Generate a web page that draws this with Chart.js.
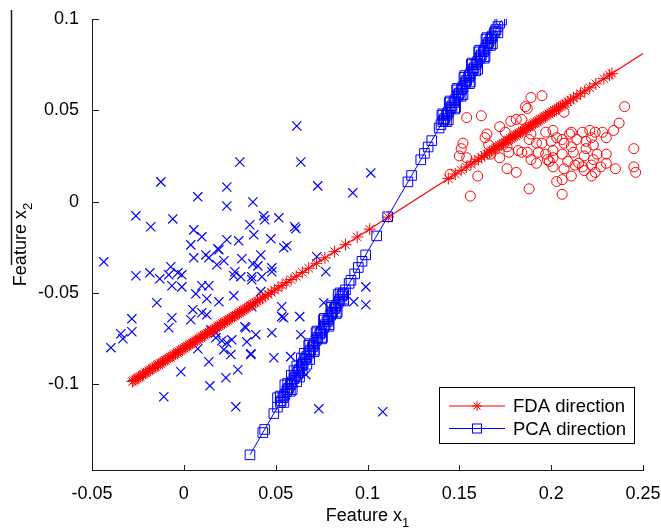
<!DOCTYPE html>
<html>
<head>
<meta charset="utf-8">
<script src="https://cdn.jsdelivr.net/npm/chart.js"></script>
<style>
  html, body { margin: 0; padding: 0; background: #fff; }
  #wrap { width: 661px; height: 529px; }
</style>
</head>
<body>
<div id="wrap"><canvas id="chart" width="661" height="529"></canvas></div>
<script>
// axis ticks
const xTicks = [-0.05, 0, 0.05, 0.1, 0.15, 0.2, 0.25];
const yTicks = [-0.1, -0.05, 0, 0.05, 0.1];

// class 1 samples (blue x)
const class1X = [0.0615, 0.0637, 0.0305, 0.0729, -0.0125, 0.0076, 0.0234, 0.0234, 0.0376, -0.0261,
  -0.0180, -0.0060, 0.0054, 0.0098, 0.0038, 0.0120, 0.0136, 0.0185, 0.0234, 0.0299,
  0.0359, 0.0381, 0.0435, 0.0441, 0.0517, 0.0474, 0.0419, 0.0544, 0.0561, 0.0604,
  0.0610, -0.0436, 0.0054, 0.0191, 0.0218, 0.0180, 0.0316, 0.0376, -0.0261, -0.0185,
  -0.0131, -0.0071, -0.0082, -0.0033, -0.0011, 0.0278, 0.0272, 0.0310, 0.0370, -0.0065,
  -0.0011, 0.0065, 0.0098, 0.0136, 0.0125, 0.0191, 0.0272, 0.0370, -0.0147, -0.0283,
  -0.0065, -0.0082, 0.0049, 0.0038, 0.0098, 0.0125, -0.0343, -0.0332, -0.0283, -0.0397,
  0.0338, 0.0174, 0.0207, 0.0234, 0.0261, 0.0218, 0.0256, 0.0343, 0.0365, 0.0076,
  0.0136, -0.0016, 0.0294, 0.0229, 0.0142, -0.0109, 0.0283, 0.1018, 0.0920, 0.0403,
  0.0479, 0.0724, 0.0425, 0.0479, 0.0773, 0.0419, 0.0533, 0.0533, 0.0544, 0.0631,
  0.0479, 0.0637, 0.0365, 0.0490, 0.0582, 0.0762, 0.0925, 0.0991, 0.0991, 0.0664,
  0.0735, 0.1083, 0.0332, 0.0147, 0.0174, 0.0392, 0.0370];
const class1Y = [0.0414, 0.0217, 0.0217, 0.0086, 0.0108, 0.0026, 0.0080, -0.0024, -0.0002, -0.0078,
  -0.0138, -0.0095, -0.0155, -0.0193, -0.0237, -0.0292, -0.0308, -0.0259, -0.0209, -0.0215,
  -0.0127, -0.0182, -0.0078, -0.0100, -0.0089, -0.0204, -0.0292, -0.0253, -0.0242, -0.0138,
  -0.0149, -0.0330, -0.0308, -0.0264, -0.0324, -0.0346, -0.0313, -0.0341, -0.0406, -0.0390,
  -0.0423, -0.0357, -0.0401, -0.0390, -0.0401, -0.0384, -0.0406, -0.0412, -0.0412, -0.0461,
  -0.0467, -0.0505, -0.0461, -0.0461, -0.0532, -0.0549, -0.0516, -0.0428, -0.0554, -0.0642,
  -0.0636, -0.0691, -0.0592, -0.0647, -0.0609, -0.0620, -0.0724, -0.0751, -0.0713, -0.0800,
  -0.0691, -0.0746, -0.0762, -0.0773, -0.0757, -0.0811, -0.0838, -0.0768, -0.0838, -0.0806,
  -0.0877, -0.0932, -0.0921, -0.0965, -0.1009, -0.1069, -0.1124, 0.0157, 0.0048, -0.0352,
  -0.0363, -0.0302, -0.0412, -0.0384, -0.0384, -0.0493, -0.0576, -0.0630, -0.0636, -0.0630,
  -0.0718, -0.0729, -0.0833, -0.0855, -0.0849, -0.0554, -0.0549, -0.0467, -0.0565, -0.0948,
  -0.1135, -0.1151, -0.0685, -0.0702, -0.0718, -0.0729, -0.0576];

// class 2 samples (red o)
const class2X = [0.189, 0.195, 0.186, 0.187, 0.154, 0.162, 0.240, 0.207, 0.181, 0.178,
  0.184, 0.172, 0.175, 0.237, 0.234, 0.165, 0.164, 0.201, 0.211, 0.210,
  0.217, 0.221, 0.224, 0.228, 0.230, 0.222, 0.219, 0.214, 0.203, 0.197,
  0.189, 0.192, 0.195, 0.200, 0.207, 0.211, 0.219, 0.223, 0.245, 0.152,
  0.151, 0.150, 0.154, 0.166, 0.167, 0.172, 0.177, 0.184, 0.187, 0.189,
  0.193, 0.197, 0.198, 0.201, 0.201, 0.206, 0.212, 0.218, 0.223, 0.225,
  0.230, 0.209, 0.213, 0.201, 0.207, 0.217, 0.222, 0.227, 0.235, 0.245,
  0.246, 0.222, 0.211, 0.206, 0.203, 0.176, 0.181, 0.160, 0.145, 0.188,
  0.156, 0.206, 0.188, 0.206, 0.199, 0.192, 0.215, 0.218, 0.230, 0.224,
  0.182, 0.176];
const class2Y = [0.057, 0.058, 0.052, 0.051, 0.046, 0.047, 0.052, 0.049, 0.045, 0.044,
  0.045, 0.041, 0.038, 0.043, 0.039, 0.037, 0.035, 0.039, 0.038, 0.037,
  0.038, 0.039, 0.038, 0.038, 0.035, 0.035, 0.033, 0.034, 0.035, 0.038,
  0.037, 0.032, 0.032, 0.033, 0.032, 0.030, 0.029, 0.031, 0.029, 0.032,
  0.029, 0.025, 0.024, 0.031, 0.026, 0.024, 0.027, 0.027, 0.027, 0.023,
  0.027, 0.026, 0.023, 0.028, 0.024, 0.026, 0.027, 0.025, 0.023, 0.026,
  0.026, 0.022, 0.020, 0.019, 0.018, 0.019, 0.020, 0.019, 0.018, 0.019,
  0.016, 0.014, 0.014, 0.012, 0.011, 0.018, 0.016, 0.014, 0.015, 0.007,
  0.003, 0.004, 0.034, 0.034, 0.022, 0.021, 0.021, 0.017, 0.021, 0.016,
  0.028, 0.030];

// FDA direction: projected samples (asterisks) and the direction line
const fdaX = [-0.0280, -0.0272, -0.0265, -0.0254, -0.0246, -0.0238, -0.0226, -0.0219, -0.0208, -0.0200,
  -0.0191, -0.0183, -0.0170, -0.0162, -0.0155, -0.0144, -0.0137, -0.0128, -0.0117, -0.0109,
  -0.0101, -0.0090, -0.0082, -0.0074, -0.0063, -0.0055, -0.0046, -0.0035, -0.0028, -0.0019,
  -0.0008, 0.0001, 0.0010, 0.0018, 0.0029, 0.0037, 0.0046, 0.0056, 0.0064, 0.0073,
  0.0083, 0.0092, 0.0100, 0.0111, 0.0119, 0.0128, 0.0138, 0.0146, 0.0155, 0.0166,
  0.0174, 0.0183, 0.0193, 0.0201, 0.0210, 0.0221, 0.0229, 0.0238, 0.0248, 0.0257,
  0.0265, 0.0276, 0.0284, 0.0293, 0.0303, 0.0312, 0.0322, 0.0331, 0.0342, 0.0353,
  0.0365, 0.0376, 0.0389, 0.0401, 0.0415, 0.0428, 0.0443, 0.0459, 0.0476, 0.0494,
  0.0513, 0.0535, 0.0558, 0.0584, 0.0612, 0.0645, 0.0680, 0.0722, 0.0768, 0.0821,
  0.0880, 0.0944, 0.1012, 0.1113,
  0.1440, 0.1478, 0.1510, 0.1538, 0.1563, 0.1585, 0.1604, 0.1621, 0.1637, 0.1651,
  0.1664, 0.1676, 0.1688, 0.1699, 0.1710, 0.1720, 0.1731, 0.1741, 0.1750, 0.1760,
  0.1769, 0.1779, 0.1788, 0.1797, 0.1806, 0.1815, 0.1824, 0.1833, 0.1842, 0.1851,
  0.1860, 0.1869, 0.1878, 0.1887, 0.1896, 0.1905, 0.1914, 0.1923, 0.1932, 0.1941,
  0.1950, 0.1960, 0.1969, 0.1978, 0.1988, 0.1998, 0.2008, 0.2018, 0.2029, 0.2040,
  0.2052, 0.2064, 0.2077, 0.2091, 0.2106, 0.2122, 0.2140, 0.2160, 0.2183, 0.2210,
  0.2243, 0.2287, 0.2318, 0.2331];
const fdaY = [-0.0985, -0.0980, -0.0975, -0.0968, -0.0963, -0.0958, -0.0950, -0.0945, -0.0938, -0.0933,
  -0.0927, -0.0922, -0.0914, -0.0909, -0.0904, -0.0897, -0.0893, -0.0887, -0.0880, -0.0874,
  -0.0869, -0.0862, -0.0857, -0.0852, -0.0845, -0.0840, -0.0834, -0.0827, -0.0822, -0.0816,
  -0.0809, -0.0803, -0.0798, -0.0792, -0.0785, -0.0780, -0.0774, -0.0768, -0.0763, -0.0757,
  -0.0750, -0.0745, -0.0739, -0.0732, -0.0727, -0.0721, -0.0715, -0.0710, -0.0704, -0.0697,
  -0.0692, -0.0686, -0.0679, -0.0674, -0.0668, -0.0661, -0.0656, -0.0650, -0.0644, -0.0638,
  -0.0633, -0.0626, -0.0621, -0.0615, -0.0608, -0.0603, -0.0596, -0.0590, -0.0583, -0.0576,
  -0.0568, -0.0561, -0.0553, -0.0545, -0.0536, -0.0528, -0.0518, -0.0508, -0.0497, -0.0485,
  -0.0473, -0.0459, -0.0444, -0.0427, -0.0409, -0.0388, -0.0365, -0.0338, -0.0308, -0.0274,
  -0.0236, -0.0194, -0.0151, -0.0085,
  0.0126, 0.0151, 0.0171, 0.0189, 0.0205, 0.0220, 0.0232, 0.0243, 0.0253, 0.0262,
  0.0271, 0.0278, 0.0286, 0.0293, 0.0300, 0.0307, 0.0314, 0.0320, 0.0326, 0.0333,
  0.0338, 0.0345, 0.0351, 0.0357, 0.0362, 0.0368, 0.0374, 0.0380, 0.0386, 0.0391,
  0.0397, 0.0403, 0.0409, 0.0415, 0.0420, 0.0426, 0.0432, 0.0438, 0.0444, 0.0450,
  0.0455, 0.0462, 0.0468, 0.0473, 0.0480, 0.0486, 0.0493, 0.0499, 0.0506, 0.0513,
  0.0521, 0.0529, 0.0537, 0.0546, 0.0556, 0.0566, 0.0578, 0.0591, 0.0606, 0.0623,
  0.0645, 0.0673, 0.0693, 0.0701];
const fdaLineX = [-0.028, 0.25];
const fdaLineY = [-0.0985, 0.0811];

// PCA direction: projected samples (squares) and the direction line
const pcaX = [0.036, 0.043, 0.044, 0.049, 0.051, 0.0525, 0.053, 0.054, 0.0545, 0.055,
  0.056, 0.0565, 0.057, 0.058, 0.0585, 0.059, 0.060, 0.0605, 0.061, 0.062,
  0.0625, 0.063, 0.064, 0.0645, 0.065, 0.066, 0.0665, 0.067, 0.068, 0.0685,
  0.069, 0.070, 0.0705, 0.071, 0.072, 0.0725, 0.073, 0.074, 0.0745, 0.075,
  0.076, 0.0765, 0.077, 0.078, 0.0785, 0.079, 0.080, 0.0805, 0.081, 0.082,
  0.0825, 0.083, 0.084, 0.0845, 0.085, 0.086, 0.0865, 0.087, 0.088, 0.090,
  0.091, 0.093, 0.095, 0.097, 0.099, 0.105, 0.111,
  0.0545, 0.0510, 0.0580, 0.0550, 0.0615, 0.0585, 0.0645, 0.0615, 0.0685, 0.0655,
  0.0710, 0.0685, 0.0755, 0.0725, 0.0790, 0.0765, 0.0835, 0.0805, 0.0870, 0.0850,
  0.0525, 0.0590, 0.0565, 0.0630, 0.0600, 0.0670, 0.0640, 0.0710, 0.0680, 0.0750,
  0.0720, 0.0790, 0.0760, 0.0830, 0.0800, 0.0870, 0.0840,
  0.122, 0.124, 0.129, 0.131, 0.133, 0.135, 0.139, 0.140, 0.141, 0.1415,
  0.142, 0.143, 0.1435, 0.144, 0.145, 0.1455, 0.146, 0.147, 0.1475, 0.148,
  0.149, 0.1495, 0.150, 0.151, 0.1515, 0.152, 0.153, 0.1535, 0.154, 0.155,
  0.1555, 0.156, 0.157, 0.1575, 0.158, 0.159, 0.1595, 0.160, 0.161, 0.1615,
  0.162, 0.163, 0.1635, 0.164, 0.165, 0.1655, 0.166, 0.167, 0.1675, 0.168,
  0.169, 0.1695, 0.170, 0.171, 0.172, 0.173,
  0.1430, 0.1405, 0.1475, 0.1445, 0.1510, 0.1485, 0.1555, 0.1525, 0.1590, 0.1565,
  0.1635, 0.1605, 0.1670, 0.1645, 0.1710,
  0.1440, 0.1410, 0.1480, 0.1450, 0.1520, 0.1490, 0.1560, 0.1530, 0.1600, 0.1570,
  0.1640, 0.1610, 0.1680, 0.1650];
const pcaY = [-0.1387, -0.1265, -0.1248, -0.1161, -0.1126, -0.1100, -0.1091, -0.1074, -0.1065, -0.1056,
  -0.1039, -0.1030, -0.1022, -0.1004, -0.0996, -0.0987, -0.0970, -0.0961, -0.0952, -0.0935,
  -0.0926, -0.0917, -0.0900, -0.0891, -0.0883, -0.0865, -0.0857, -0.0848, -0.0831, -0.0822,
  -0.0813, -0.0796, -0.0787, -0.0778, -0.0761, -0.0752, -0.0744, -0.0726, -0.0718, -0.0709,
  -0.0692, -0.0683, -0.0674, -0.0657, -0.0648, -0.0639, -0.0622, -0.0613, -0.0605, -0.0587,
  -0.0579, -0.0570, -0.0553, -0.0544, -0.0535, -0.0518, -0.0509, -0.0500, -0.0483, -0.0448,
  -0.0431, -0.0396, -0.0361, -0.0327, -0.0292, -0.0188, -0.0083,
  -0.1100, -0.1074, -0.1039, -0.1004, -0.0987, -0.0952, -0.0926, -0.0900, -0.0865, -0.0831,
  -0.0813, -0.0778, -0.0744, -0.0709, -0.0674, -0.0639, -0.0605, -0.0570, -0.0535, -0.0500,
  -0.1065, -0.1030, -0.0996, -0.0961, -0.0926, -0.0891, -0.0857, -0.0822, -0.0787, -0.0752,
  -0.0718, -0.0683, -0.0648, -0.0613, -0.0579, -0.0544, -0.0509,
  0.0108, 0.0143, 0.0229, 0.0264, 0.0299, 0.0334, 0.0403, 0.0421, 0.0438, 0.0447,
  0.0455, 0.0473, 0.0481, 0.0490, 0.0507, 0.0516, 0.0525, 0.0542, 0.0551, 0.0560,
  0.0577, 0.0586, 0.0594, 0.0612, 0.0620, 0.0629, 0.0646, 0.0655, 0.0664, 0.0681,
  0.0690, 0.0699, 0.0716, 0.0725, 0.0733, 0.0751, 0.0759, 0.0768, 0.0785, 0.0794,
  0.0803, 0.0820, 0.0829, 0.0838, 0.0855, 0.0864, 0.0872, 0.0890, 0.0898, 0.0907,
  0.0924, 0.0933, 0.0942, 0.0959, 0.0977, 0.0994,
  0.0438, 0.0473, 0.0507, 0.0542, 0.0577, 0.0612, 0.0646, 0.0681, 0.0716, 0.0751,
  0.0785, 0.0820, 0.0855, 0.0890, 0.0924,
  0.0447, 0.0481, 0.0516, 0.0551, 0.0586, 0.0620, 0.0655, 0.0690, 0.0725, 0.0759,
  0.0794, 0.0829, 0.0864, 0.0898];
const pcaLineX = [0.036, 0.173];
const pcaLineY = [-0.1387, 0.0994];

const FONT = "'Liberation Sans', Arial, Helvetica, sans-serif";
const AXIS_COLOR = '#1a1a1a';
const RED = '#ff0000';
const BLUE = '#0000ff';

function toPoints(xs, ys) {
	return xs.map((x, i) => ({ x: x, y: ys[i] }));
}

function drawAsterisk(ctx, x, y, r) {
	const d = r * Math.SQRT1_2;
	ctx.beginPath();
	ctx.moveTo(x - r, y); ctx.lineTo(x + r, y);
	ctx.moveTo(x, y - r); ctx.lineTo(x, y + r);
	ctx.moveTo(x - d, y - d); ctx.lineTo(x + d, y + d);
	ctx.moveTo(x - d, y + d); ctx.lineTo(x + d, y - d);
	ctx.stroke();
}

// axis titles with subscripts, inward ticks and the boxed legend
const decorPlugin = {
	id: 'decor',
	afterDraw(chart) {
		const { ctx, chartArea: area, scales } = chart;
		ctx.save();

		// inward tick marks
		ctx.strokeStyle = AXIS_COLOR;
		ctx.lineWidth = 1;
		ctx.beginPath();
		scales.x.ticks.forEach(t => {
			const px = Math.round(scales.x.getPixelForValue(t.value)) + 0.5;
			ctx.moveTo(px, area.bottom);
			ctx.lineTo(px, area.bottom - 5);
		});
		scales.y.ticks.forEach(t => {
			const py = Math.round(scales.y.getPixelForValue(t.value)) + 0.5;
			ctx.moveTo(area.left, py);
			ctx.lineTo(area.left + 7, py);
		});
		ctx.stroke();

		// stray frame line at the far left of the source figure
		ctx.beginPath();
		ctx.lineWidth = 1.5;
		ctx.moveTo(11.5, 10);
		ctx.lineTo(11.5, 265);
		ctx.stroke();

		// axis titles
		ctx.fillStyle = '#000';
		ctx.textBaseline = 'alphabetic';
		ctx.textAlign = 'left';
		const mainFont = '18px ' + FONT;
		const subFont = '13px ' + FONT;
		function measure(main, sub) {
			ctx.font = mainFont;
			const w1 = ctx.measureText(main).width;
			ctx.font = subFont;
			const w2 = ctx.measureText(sub).width;
			return { w1, w2, total: w1 + w2 };
		}
		// x title
		let m = measure('Feature x', '1');
		let sx = (area.left + area.right) / 2 - m.total / 2;
		ctx.font = mainFont;
		ctx.fillText('Feature x', sx, 521);
		ctx.font = subFont;
		ctx.fillText('1', sx + m.w1, 527);
		// y title
		m = measure('Feature x', '2');
		const cy = (area.top + area.bottom) / 2;
		ctx.save();
		ctx.translate(26, cy);
		ctx.rotate(-Math.PI / 2);
		sx = -m.total / 2;
		ctx.font = mainFont;
		ctx.fillText('Feature x', sx, 0);
		ctx.font = subFont;
		ctx.fillText('2', sx + m.w1, 6);
		ctx.restore();

		// legend
		const bx = area.right - 204, by = area.bottom - 83, bw = 195, bh = 56;
		ctx.fillStyle = '#fff';
		ctx.fillRect(bx, by, bw, bh);
		ctx.strokeStyle = '#000';
		ctx.lineWidth = 1;
		ctx.strokeRect(bx + 0.5, by + 0.5, bw, bh);
		const rows = [
			{ label: 'FDA direction', color: RED, y: by + 19 },
			{ label: 'PCA direction', color: BLUE, y: by + 41.5 }
		];
		ctx.font = '18.5px ' + FONT;
		ctx.textBaseline = 'middle';
		rows.forEach((row, i) => {
			ctx.strokeStyle = row.color;
			ctx.lineWidth = 1;
			ctx.beginPath();
			ctx.moveTo(bx + 10, row.y);
			ctx.lineTo(bx + 66, row.y);
			ctx.stroke();
			const mx = bx + 38;
			if (i === 0) {
				drawAsterisk(ctx, mx, row.y, 5);
			} else {
				ctx.strokeRect(mx - 4.5, row.y - 4.5, 9, 9);
			}
			ctx.fillStyle = '#000';
			ctx.fillText(row.label, bx + 74, row.y + 1);
		});

		ctx.restore();
	}
};

const ctx = document.getElementById('chart').getContext('2d');
window.featureChart = new Chart(ctx, {
	type: 'scatter',
	data: {
		datasets: [
			{
				label: 'PCA projections',
				data: toPoints(pcaX, pcaY),
				showLine: false,
				pointStyle: 'rect',
				pointRadius: 6.8,
				pointBorderWidth: 1,
				pointBorderColor: BLUE,
				pointBackgroundColor: 'rgba(0,0,0,0)',
				order: 0
			},
			{
				label: 'PCA direction',
				data: toPoints(pcaLineX, pcaLineY),
				showLine: true,
				borderColor: BLUE,
				borderWidth: 1,
				pointRadius: 0,
				order: 1
			},
			{
				label: 'FDA projections',
				data: toPoints(fdaX, fdaY),
				showLine: false,
				pointStyle: 'star',
				pointRadius: 6,
				pointBorderWidth: 1,
				pointBorderColor: RED,
				pointBackgroundColor: RED,
				order: 2
			},
			{
				label: 'FDA direction',
				data: toPoints(fdaLineX, fdaLineY),
				showLine: true,
				borderColor: RED,
				borderWidth: 1.2,
				pointRadius: 0,
				order: 3
			},
			{
				label: 'Class 2',
				data: toPoints(class2X, class2Y),
				pointStyle: 'circle',
				pointRadius: 5,
				pointBorderWidth: 1,
				pointBorderColor: RED,
				pointBackgroundColor: 'rgba(0,0,0,0)',
				order: 4
			},
			{
				label: 'Class 1',
				data: toPoints(class1X, class1Y),
				pointStyle: 'crossRot',
				pointRadius: 6.5,
				pointBorderWidth: 1.2,
				pointBorderColor: BLUE,
				order: 5
			}
		]
	},
	options: {
		responsive: false,
		animation: false,
		events: [],
		layout: {
			padding: { top: 19, right: 18, left: 0, bottom: 0 }
		},
		plugins: {
			legend: { display: false },
			tooltip: { enabled: false }
		},
		scales: {
			x: {
				type: 'linear',
				min: -0.05,
				max: 0.25,
				grid: { display: false },
				border: { display: true, color: AXIS_COLOR, width: 1 },
				afterBuildTicks: function (scale) {
					scale.ticks = xTicks.map(v => ({ value: v }));
				},
				afterFit: function (scale) {
					scale.height = 59;
					scale.paddingLeft = 0;
					scale.paddingRight = 0;
				},
				ticks: {
					padding: 5,
					maxRotation: 0,
					color: '#000',
					font: { family: FONT, size: 18 },
					callback: function (value) {
						return String(value);
					}
				}
			},
			y: {
				type: 'linear',
				min: -0.147,
				max: 0.1,
				grid: { display: false },
				border: { display: true, color: AXIS_COLOR, width: 1 },
				afterBuildTicks: function (scale) {
					scale.ticks = yTicks.map(v => ({ value: v }));
				},
				afterFit: function (scale) {
					scale.width = 92;
					scale.paddingTop = 0;
					scale.paddingBottom = 0;
				},
				ticks: {
					padding: 5,
					color: '#000',
					font: { family: FONT, size: 18 },
					callback: function (value) {
						return String(value);
					}
				}
			}
		}
	},
	plugins: [decorPlugin]
});
</script>
</body>
</html>
